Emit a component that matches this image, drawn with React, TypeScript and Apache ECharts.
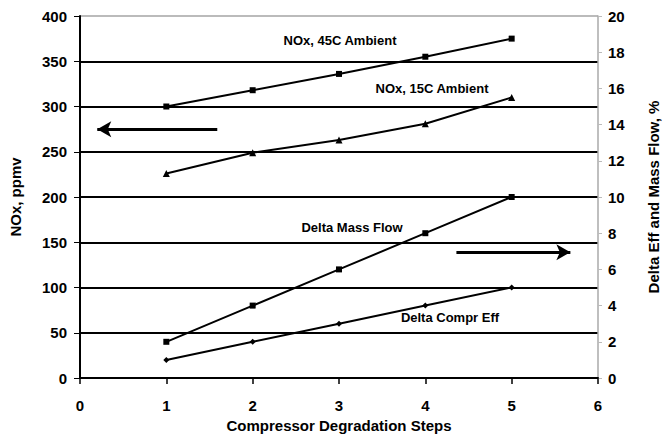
import React, { useEffect, useRef } from "react";
import * as echarts from "echarts";

const steps = [1, 2, 3, 4, 5];
const nox45 = [300, 318, 336, 355, 375];
const nox15 = [226, 249, 263, 281, 310];
const massFlow = [2, 4, 6, 8, 10];
const complEff = [1, 2, 3, 4, 5];
const leftArrow = { from: [1.59, 275], to: [0.2, 275] };
const rightArrow = { from: [4.36, 6.95], to: [5.68, 6.95] };

const FONT = "Liberation Sans, Arial, sans-serif";

export default function App() {
  const ref = useRef<HTMLDivElement>(null);
  useEffect(() => {
    const chart = echarts.init(ref.current!, null, { renderer: "svg" });
    const pair = (ys: number[]) => steps.map((x, i) => [x, ys[i]]);
    const lineBase = {
      type: "line",
      lineStyle: { color: "#000", width: 2 },
      itemStyle: { color: "#000" },
      symbolSize: 6,
      z: 5,
    };
    const tickFont = { fontFamily: FONT, fontWeight: "bold", fontSize: 15, color: "#000" };
    const nameFont = { fontFamily: FONT, fontWeight: "bold", fontSize: 15, color: "#000" };
    const annot = (text: string, x: number, y: number) => ({
      type: "text",
      x,
      y,
      style: { text, font: `bold 13px ${FONT}`, fill: "#000", align: "center", verticalAlign: "middle" },
    });
    chart.setOption({
      animation: false,
      backgroundColor: "#fff",
      textStyle: { fontFamily: FONT },
      grid: { left: 80, right: 67, top: 16, bottom: 65 },
      xAxis: {
        type: "value",
        min: 0,
        max: 6,
        interval: 1,
        name: "Compressor Degradation Steps",
        nameLocation: "middle",
        nameGap: 37,
        nameTextStyle: nameFont,
        axisLine: { lineStyle: { color: "#000", width: 2 } },
        axisTick: { show: true, length: 6, lineStyle: { color: "#000", width: 1.5 } },
        axisLabel: { ...tickFont, margin: 20 },
        splitLine: { show: false },
      },
      yAxis: [
        {
          type: "value",
          min: 0,
          max: 400,
          interval: 50,
          name: "NOx, ppmv",
          nameLocation: "middle",
          nameGap: 57,
          nameTextStyle: nameFont,
          axisLine: { show: true, lineStyle: { color: "#000", width: 2 } },
          axisTick: { show: true, length: 6, lineStyle: { color: "#000" } },
          axisLabel: { ...tickFont, margin: 13 },
          splitLine: {
            show: true,
            lineStyle: {
              color: ["#000", "#000", "#000", "#000", "#000", "#000", "#000", "#000", "#bbb"],
              width: 2,
            },
          },
        },
        {
          type: "value",
          min: 0,
          max: 20,
          interval: 2,
          name: "Delta Eff and Mass Flow, %",
          nameLocation: "middle",
          nameGap: 48,
          nameRotate: 90,
          nameTextStyle: nameFont,
          axisLine: { show: true, lineStyle: { color: "#aaa", width: 1.5 } },
          axisTick: { show: true, length: 4, lineStyle: { color: "#bbb" } },
          axisLabel: { ...tickFont, margin: 10 },
          splitLine: { show: false },
        },
      ],
      series: [
        { ...lineBase, name: "NOx, 45C Ambient", symbol: "rect", data: pair(nox45) },
        { ...lineBase, name: "NOx, 15C Ambient", symbol: "triangle", symbolSize: 7, data: pair(nox15) },
        { ...lineBase, name: "Delta Mass Flow", symbol: "rect", yAxisIndex: 1, data: pair(massFlow) },
        { ...lineBase, name: "Delta Compr Eff", symbol: "diamond", yAxisIndex: 1, data: pair(complEff) },
        {
          type: "line",
          data: [],
          markLine: {
            silent: true,
            symbol: ["none", "arrow"],
            symbolSize: [12, 14],
            lineStyle: { color: "#000", width: 3, type: "solid" },
            label: { show: false },
            data: [[{ coord: leftArrow.from }, { coord: leftArrow.to }]],
          },
        },
        {
          type: "line",
          yAxisIndex: 1,
          data: [],
          markLine: {
            silent: true,
            symbol: ["none", "arrow"],
            symbolSize: [12, 14],
            lineStyle: { color: "#000", width: 3, type: "solid" },
            label: { show: false },
            data: [[{ coord: rightArrow.from }, { coord: rightArrow.to }]],
          },
        },
      ],
      graphic: [
        annot("NOx, 45C Ambient", 340, 40),
        annot("NOx, 15C Ambient", 432, 88),
        annot("Delta Mass Flow", 352, 227),
        annot("Delta Compr Eff", 450, 317),
      ],
    });
    return () => chart.dispose();
  }, []);
  return <div ref={ref} style={{ width: 669, height: 443, position: "absolute", left: 0, top: 0 }} />;
}
